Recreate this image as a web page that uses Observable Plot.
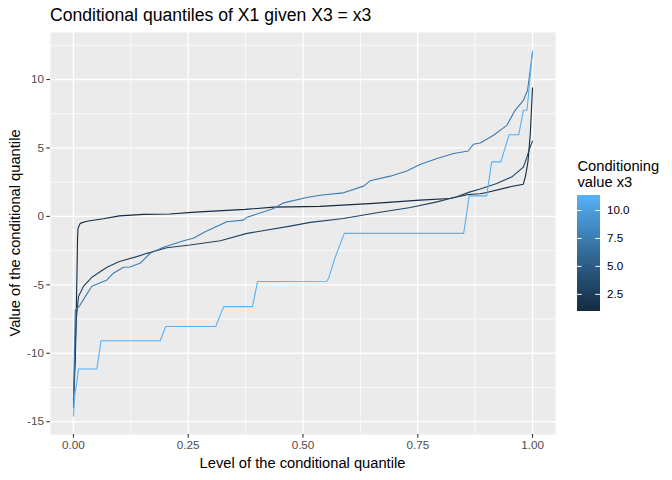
<!DOCTYPE html>
<html>
<head>
<meta charset="utf-8">
<script src="https://cdn.jsdelivr.net/npm/d3@7"></script>
<script src="https://cdn.jsdelivr.net/npm/@observablehq/plot@0.6"></script>
<style>
  html, body { margin: 0; padding: 0; background: #ffffff; }
  #wrap { position: relative; width: 672px; height: 480px; font-family: "Liberation Sans", Arial, sans-serif; background: #fff; overflow: hidden; }
  #wrap .abs { position: absolute; white-space: nowrap; }
  #title { left: 50px; top: 6.8px; font-size: 17.6px; line-height: 17.6px; color: #000; }
  #xlab { left: 302.5px; top: 455.6px; font-size: 14.7px; line-height: 14.7px; transform: translateX(-50%); color: #000; }
  #ylab { left: 15px; top: 233px; font-size: 14.7px; line-height: 14.7px; transform: translate(-50%, -50%) rotate(-90deg); color: #000; }
  #legtitle { left: 577.5px; top: 157.5px; font-size: 14.7px; line-height: 16.5px; color: #000; }
  #main { position: absolute; left: 0; top: 0; }
  #legend { position: absolute; left: 577.3px; top: 196px; }
</style>
</head>
<body>
<div id="wrap">
  <div id="main"></div>
  <div id="legend"></div>
  <div class="abs" id="title">Conditional quantiles of X1 given X3 = x3</div>
  <div class="abs" id="xlab">Level of the conditional quantile</div>
  <div class="abs" id="ylab">Value of the conditional quantile</div>
  <div class="abs" id="legtitle">Conditioning<br>value x3</div>
</div>
<script>
// ---- data ----
const conditioningX3 = [1.0, 3.0, 7.5, 11.25];

const levelsA = [0, 0.004, 0.007, 0.009, 0.010, 0.0146, 0.025, 0.036, 0.065, 0.10, 0.153, 0.21, 0.265, 0.374, 0.436, 0.537, 0.654, 0.755, 0.82, 0.84, 0.86, 0.886, 0.90, 0.951, 0.98, 0.985, 0.99, 0.995, 1.0];
const valuesA = [-13.6, -10.5, -5.5, -1.5, -0.87, -0.51, -0.39, -0.32, -0.17, 0.04, 0.15, 0.17, 0.31, 0.51, 0.68, 0.73, 0.95, 1.19, 1.31, 1.45, 1.6, 1.65, 1.75, 2.16, 2.35, 3.0, 4.0, 6.0, 9.4];

const levelsB = [0, 0.003, 0.006, 0.011, 0.022, 0.04, 0.073, 0.10, 0.138, 0.16, 0.203, 0.254, 0.32, 0.378, 0.472, 0.516, 0.588, 0.661, 0.734, 0.792, 0.835, 0.864, 0.886, 0.922, 0.955, 0.98, 0.988, 0.994, 1.0];
const valuesB = [-13.4, -10.5, -7.55, -5.86, -5.1, -4.45, -3.72, -3.3, -2.94, -2.7, -2.29, -2.09, -1.78, -1.24, -0.71, -0.44, -0.15, 0.26, 0.65, 1.06, 1.43, 1.79, 2.0, 2.4, 2.89, 3.6, 4.35, 5.0, 5.5];

const levelsC = [0, 0.002, 0.004, 0.012, 0.025, 0.04, 0.073, 0.087, 0.109, 0.123, 0.145, 0.167, 0.196, 0.24, 0.261, 0.287, 0.334, 0.37, 0.378, 0.436, 0.458, 0.508, 0.537, 0.588, 0.632, 0.646, 0.69, 0.726, 0.755, 0.792, 0.828, 0.86, 0.871, 0.886, 0.915, 0.944, 0.962, 0.98, 0.989, 0.993, 1.0];
const valuesC = [-14.0, -10.0, -6.83, -6.6, -5.9, -5.1, -4.64, -4.15, -3.72, -3.7, -3.43, -2.7, -2.26, -1.78, -1.6, -1.12, -0.39, -0.27, -0.07, 0.58, 0.99, 1.38, 1.55, 1.72, 2.21, 2.6, 2.94, 3.32, 3.79, 4.23, 4.59, 4.78, 5.27, 5.36, 5.93, 6.65, 7.75, 8.48, 9.2, 10.2, 12.0];

const levelsD = [0, 0.003, 0.007, 0.011, 0.051, 0.06, 0.189, 0.201, 0.31, 0.327, 0.39, 0.401, 0.552, 0.556, 0.57, 0.59, 0.85, 0.862, 0.9, 0.911, 0.931, 0.949, 0.97, 0.98, 0.988, 1.0];
const valuesD = [-14.6, -13.0, -12.2, -11.15, -11.15, -9.09, -9.09, -8.04, -8.04, -6.59, -6.59, -4.76, -4.74, -4.5, -3.0, -1.24, -1.24, 1.5, 1.5, 3.98, 3.98, 5.97, 5.97, 7.75, 7.75, 12.1];

const xTicks = [0, 0.25, 0.5, 0.75, 1.0];
const xMinor = [0.125, 0.375, 0.625, 0.875];
const yTicks = [-15, -10, -5, 0, 5, 10];
const yMinor = [-12.5, -7.5, -2.5, 2.5, 7.5, 12.5];
const legendTicks = [2.5, 5.0, 7.5, 10.0];

// ---- build table ----
const seriesLevels = [levelsA, levelsB, levelsC, levelsD];
const seriesValues = [valuesA, valuesB, valuesC, valuesD];
const rows = seriesLevels.flatMap((lv, i) =>
  lv.map((p, j) => ({p, v: seriesValues[i][j], x3: conditioningX3[i], s: i})));

const expand = ([a, b]) => { const d = (b - a) * 0.05; return [a - d, b + d]; };
const xDom = expand(d3.extent(rows, d => d.p));
const yDom = expand(d3.extent(rows, d => d.v));
const cDom = d3.extent(conditioningX3);
const colorScale = {type: "linear", domain: cDom, range: ["#132B43", "#56B1F7"], interpolate: d3.interpolateLab};

const W = 672, H = 480;
const main = Plot.plot({
  width: W, height: H,
  marginLeft: 50, marginRight: 117, marginTop: 32, marginBottom: 46,
  style: {fontFamily: "'Liberation Sans', Arial, sans-serif", background: "transparent", overflow: "visible"},
  x: {domain: xDom},
  y: {domain: yDom},
  color: colorScale,
  marks: [
    Plot.frame({fill: "#EBEBEB", stroke: null}),
    Plot.ruleX(xMinor, {stroke: "white", strokeWidth: 0.71}),
    Plot.ruleY(yMinor.filter(v => v > yDom[0] && v < yDom[1]), {stroke: "white", strokeWidth: 0.71}),
    Plot.ruleX(xTicks, {stroke: "white", strokeWidth: 1.3}),
    Plot.ruleY(yTicks, {stroke: "white", strokeWidth: 1.3}),
    Plot.line(rows, {x: "p", y: "v", z: "s", stroke: "x3", strokeWidth: 1.1}),
    Plot.axisX({ticks: xTicks, tickFormat: d3.format(".2f"), tickSize: 3.67, tickPadding: 2.5, fontSize: 11.7, fill: "#4D4D4D", stroke: "#333333", strokeWidth: 1.1, label: null}),
    Plot.axisY({ticks: yTicks, tickFormat: d => String(d), tickSize: 3.67, tickPadding: 2.9, fontSize: 11.7, fill: "#4D4D4D", stroke: "#333333", strokeWidth: 1.1, label: null})
  ]
});
document.getElementById("main").appendChild(main);

// ---- legend colorbar ----
const nSteps = 115;
const stepSize = (cDom[1] - cDom[0]) / nSteps;
const steps = d3.range(nSteps).map(i => cDom[0] + i * stepSize);
const legend = Plot.plot({
  width: 95, height: 115,
  marginLeft: 0, marginRight: 72, marginTop: 0, marginBottom: 0,
  style: {fontFamily: "'Liberation Sans', Arial, sans-serif", background: "transparent", overflow: "visible"},
  x: {domain: [0, 1], axis: null},
  y: {domain: cDom},
  color: colorScale,
  marks: [
    Plot.rect(steps, {x1: 0, x2: 1, y1: d => d, y2: d => d + stepSize * 1.6, fill: d => d + stepSize / 2, shapeRendering: "crispEdges"}),
    Plot.ruleY(legendTicks, {x1: 0, x2: 0.2, stroke: "white", strokeWidth: 1}),
    Plot.ruleY(legendTicks, {x1: 0.8, x2: 1, stroke: "white", strokeWidth: 1}),
    Plot.axisY({anchor: "right", ticks: legendTicks, tickFormat: d3.format(".1f"), tickSize: 0, tickPadding: 6.5, fontSize: 11.7, fill: "#000", label: null})
  ]
});
document.getElementById("legend").appendChild(legend);
</script>
</body>
</html>
